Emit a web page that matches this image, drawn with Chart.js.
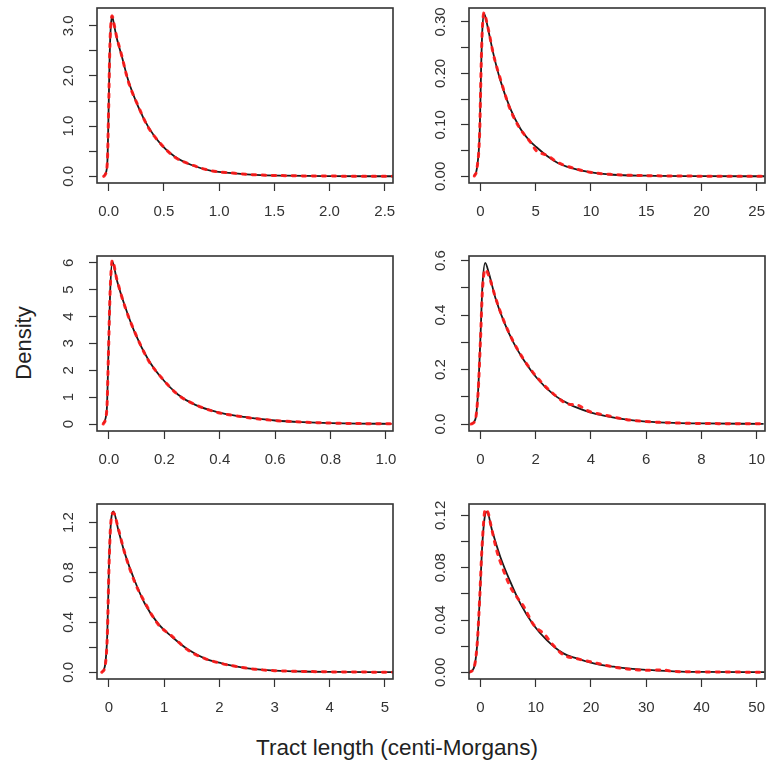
<!DOCTYPE html>
<html lang="en">
<head>
  <meta charset="UTF-8" />
  <title>Tract length densities</title>
  <script src="https://cdn.jsdelivr.net/npm/chart.js"></script>
  <style>
    html, body { margin: 0; padding: 0; background: #fff; overflow: hidden; }
    body { width: 766px; height: 764px; position: relative; font-family: "Liberation Sans", Arial, sans-serif; color: #222; }
    .panel { position: absolute; }
    .ylab { position: absolute; left: 24px; top: 343px; font-size: 22px; transform: translate(-50%, -50%) rotate(-90deg); white-space: nowrap; }
    .xlab { position: absolute; left: 397px; top: 748px; font-size: 22.5px; transform: translate(-50%, -50%); white-space: nowrap; }
  </style>
</head>
<body>
  <canvas id="p1" class="panel"></canvas>
  <canvas id="p2" class="panel"></canvas>
  <canvas id="p3" class="panel"></canvas>
  <canvas id="p4" class="panel"></canvas>
  <canvas id="p5" class="panel"></canvas>
  <canvas id="p6" class="panel"></canvas>
  <div class="ylab">Density</div>
  <div class="xlab">Tract length (centi-Morgans)</div>

  <script>
    // panel 1
    const p1X    = [-0.045, -0.03, -0.012, 0, 0.009, 0.018, 0.03, 0.05, 0.07, 0.115, 0.176, 0.267, 0.357, 0.479, 0.6, 0.75, 0.93, 1.145, 1.33, 1.6, 2.0, 2.57];
    const p1Fit  = [0.0, 0.05, 0.29, 1.42, 2.42, 2.95, 3.19, 3.0, 2.78, 2.42, 1.92, 1.39, 0.99, 0.62, 0.39, 0.225, 0.11, 0.06, 0.03, 0.014, 0.005, 0.001];
    const p1Obs  = [0.0, 0.04, 0.3, 1.4, 2.45, 2.98, 3.2, 3.02, 2.8, 2.43, 1.9, 1.4, 0.98, 0.63, 0.38, 0.23, 0.11, 0.06, 0.03, 0.013, 0.005, 0.001];
    const p1XTicks = [0, 0.5, 1, 1.5, 2, 2.5];
    const p1XLabels = ["0.0", "0.5", "1.0", "1.5", "2.0", "2.5"];
    const p1YTicks = [0, 0.5, 1, 1.5, 2, 2.5, 3];
    const p1YLabels = ["0.0", "", "1.0", "", "2.0", "", "3.0"];

    // panel 2
    const p2X    = [-0.56, -0.32, -0.07, 0.05, 0.16, 0.32, 0.5, 0.74, 1.19, 1.79, 2.69, 3.6, 4.5, 5.05, 6.0, 7.0, 7.8, 9.9, 12.0, 15, 20, 25.7];
    const p2Fit  = [0.0006, 0.016, 0.087, 0.204, 0.281, 0.316, 0.305, 0.281, 0.236, 0.187, 0.132, 0.093, 0.068, 0.057, 0.040, 0.026, 0.019, 0.008, 0.003, 0.0012, 0.0003, 0.0001];
    const p2Obs  = [0.0005, 0.015, 0.088, 0.205, 0.283, 0.318, 0.306, 0.283, 0.235, 0.19, 0.13, 0.092, 0.067, 0.05, 0.041, 0.027, 0.02, 0.008, 0.0035, 0.0013, 0.0003, 0.0001];
    const p2XTicks = [0, 5, 10, 15, 20, 25];
    const p2XLabels = ["0", "5", "10", "15", "20", "25"];
    const p2YTicks = [0, 0.05, 0.1, 0.15, 0.2, 0.25, 0.3];
    const p2YLabels = ["0.00", "", "0.10", "", "0.20", "", "0.30"];

    // panel 3
    const p3X    = [-0.021, -0.008, -0.002, 0.004, 0.012, 0.028, 0.058, 0.094, 0.142, 0.19, 0.25, 0.31, 0.395, 0.467, 0.52, 0.6, 0.7, 0.8, 0.9, 1.02];
    const p3Fit  = [0.01, 0.53, 2.64, 4.87, 6.05, 5.37, 4.37, 3.38, 2.39, 1.71, 1.09, 0.72, 0.43, 0.29, 0.22, 0.13, 0.07, 0.035, 0.017, 0.007];
    const p3Obs  = [0.0, 0.5, 2.6, 4.9, 6.08, 5.4, 4.35, 3.4, 2.37, 1.72, 1.08, 0.73, 0.42, 0.29, 0.21, 0.13, 0.07, 0.036, 0.016, 0.007];
    const p3XTicks = [0, 0.2, 0.4, 0.6, 0.8, 1.0];
    const p3XLabels = ["0.0", "0.2", "0.4", "0.6", "0.8", "1.0"];
    const p3YTicks = [0, 1, 2, 3, 4, 5, 6];
    const p3YLabels = ["0", "1", "2", "3", "4", "5", "6"];

    // panel 4
    const p4X    = [-0.34, -0.19, -0.09, 0.0, 0.07, 0.17, 0.3, 0.54, 0.84, 1.2, 1.56, 2.04, 2.65, 3.25, 3.4, 3.97, 4.5, 5.3, 6, 7, 8, 10.25];
    const p4Fit  = [0.0, 0.016, 0.114, 0.322, 0.506, 0.592, 0.555, 0.463, 0.378, 0.298, 0.236, 0.169, 0.108, 0.071, 0.064, 0.043, 0.03, 0.016, 0.009, 0.004, 0.002, 0.0005];
    const p4Obs  = [0.0, 0.014, 0.11, 0.31, 0.49, 0.567, 0.545, 0.465, 0.38, 0.3, 0.238, 0.172, 0.11, 0.072, 0.072, 0.045, 0.033, 0.016, 0.009, 0.004, 0.002, 0.0005];
    const p4XTicks = [0, 2, 4, 6, 8, 10];
    const p4XLabels = ["0", "2", "4", "6", "8", "10"];
    const p4YTicks = [0, 0.1, 0.2, 0.3, 0.4, 0.5, 0.6];
    const p4YLabels = ["0.0", "", "0.2", "", "0.4", "", "0.6"];

    // panel 5
    const p5X    = [-0.13, -0.07, -0.03, 0.0, 0.03, 0.08, 0.17, 0.29, 0.47, 0.65, 0.89, 1.14, 1.44, 1.74, 2.04, 2.4, 2.64, 3.0, 3.5, 4.0, 5.14];
    const p5Fit  = [0.0, 0.06, 0.31, 0.85, 1.17, 1.29, 1.14, 0.95, 0.73, 0.55, 0.39, 0.285, 0.18, 0.11, 0.072, 0.04, 0.026, 0.014, 0.006, 0.003, 0.0005];
    const p5Obs  = [0.0, 0.05, 0.3, 0.84, 1.18, 1.28, 1.15, 0.95, 0.72, 0.56, 0.385, 0.29, 0.175, 0.11, 0.07, 0.04, 0.025, 0.013, 0.007, 0.003, 0.0005];
    const p5XTicks = [0, 1, 2, 3, 4, 5];
    const p5XLabels = ["0", "1", "2", "3", "4", "5"];
    const p5YTicks = [0, 0.2, 0.4, 0.6, 0.8, 1.0, 1.2];
    const p5YLabels = ["0.0", "", "0.4", "", "0.8", "", "1.2"];

    // panel 6
    const p6X    = [-2.1, -1.23, -0.63, -0.15, 0.27, 0.69, 1.17, 2.08, 3.58, 5.39, 7.2, 9.6, 12.0, 15.0, 17.4, 20.5, 24.1, 26.5, 30, 35, 40, 51.4];
    const p6Fit  = [0, 0.003, 0.0196, 0.055, 0.0935, 0.1164, 0.1228, 0.1088, 0.0884, 0.0693, 0.0527, 0.0362, 0.0247, 0.0145, 0.0107, 0.0069, 0.0043, 0.003, 0.0018, 0.0008, 0.0003, 0.0001];
    const p6ObsX = [-2.1, -1.23, -0.63, -0.15, 0.27, 0.87, 1.42, 1.78, 2.98, 3.89, 5.39, 6.6, 7.8, 9.6, 11.7, 12.9, 15.0, 17.4, 20.75, 24.1, 26.5, 30, 33, 35, 40, 51.4];
    const p6Obs  = [0, 0.003, 0.02, 0.056, 0.095, 0.1246, 0.1215, 0.1145, 0.0925, 0.081, 0.0655, 0.0575, 0.0505, 0.0365, 0.0285, 0.022, 0.0134, 0.0105, 0.0073, 0.0041, 0.0026, 0.0016, 0.0018, 0.0007, 0.0003, 0.0001];
    const p6XTicks = [0, 10, 20, 30, 40, 50];
    const p6XLabels = ["0", "10", "20", "30", "40", "50"];
    const p6YTicks = [0, 0.02, 0.04, 0.06, 0.08, 0.1, 0.12];
    const p6YLabels = ["0.00", "", "0.04", "", "0.08", "", "0.12"];

    const PAD_L = 60, PAD_T = 10, PAD_R = 20, PAD_B = 45;
    const FONT = '"Liberation Sans", Arial, sans-serif';
    const AXIS_COLOR = "#333";
    const TICK_SIZE = 15;

    // box around the plot + rotated y tick labels (R style)
    const framePlugin = {
      id: "frame",
      afterDraw(chart, args, opts) {
        const { ctx, chartArea: a } = chart;
        const ys = chart.scales.y;
        ctx.save();
        ctx.strokeStyle = AXIS_COLOR;
        ctx.lineWidth = 1.6;
        ctx.strokeRect(a.left, a.top, a.right - a.left, a.bottom - a.top);
        ctx.fillStyle = AXIS_COLOR;
        ctx.font = TICK_SIZE + "px " + FONT;
        ctx.textAlign = "center";
        ctx.textBaseline = "middle";
        opts.ticks.forEach((v, i) => {
          if (!opts.labels[i]) return;
          ctx.save();
          ctx.translate(a.left - 28, ys.getPixelForValue(v));
          ctx.rotate(-Math.PI / 2);
          ctx.fillText(opts.labels[i], 0, 0);
          ctx.restore();
        });
        ctx.restore();
      }
    };

    function pts(xs, ys) {
      return xs.map((x, i) => ({ x: x, y: ys[i] }));
    }

    function makePanel(id, box, xRange, yRange, xTicks, xLabels, yTicks, yLabels, fitX, fit, obsX, obs) {
      const [L, T, R, B] = box;
      const canvas = document.getElementById(id);
      const w = R - L + PAD_L + PAD_R;
      const h = B - T + PAD_T + PAD_B;
      canvas.width = w;
      canvas.height = h;
      canvas.style.width = w + "px";
      canvas.style.height = h + "px";
      canvas.style.left = (L - PAD_L) + "px";
      canvas.style.top = (T - PAD_T) + "px";

      const grid = { display: true, drawOnChartArea: false, drawTicks: true, tickLength: 8, tickColor: AXIS_COLOR, tickWidth: 1.2 };

      return new Chart(canvas.getContext("2d"), {
        type: "line",
        data: {
          datasets: [
            {
              data: pts(obsX, obs),
              borderColor: "rgba(255, 25, 25, 0.92)",
              borderWidth: 3,
              borderDash: [3.5, 6.5],
              borderCapStyle: "round",
              pointRadius: 0,
              cubicInterpolationMode: "monotone",
              order: 0
            },
            {
              data: pts(fitX, fit),
              borderColor: "#1a1a1a",
              borderWidth: 1.8,
              pointRadius: 0,
              cubicInterpolationMode: "monotone",
              order: 1
            }
          ]
        },
        options: {
          responsive: false,
          animation: false,
          devicePixelRatio: 1,
          events: [],
          layout: { padding: { left: 0, top: PAD_T, right: PAD_R, bottom: 0 } },
          plugins: {
            legend: { display: false },
            tooltip: { enabled: false },
            frame: { ticks: yTicks, labels: yLabels }
          },
          scales: {
            x: {
              type: "linear",
              min: xRange[0],
              max: xRange[1],
              afterBuildTicks: s => { s.ticks = xTicks.map(v => ({ value: v })); },
              afterFit: s => { s.height = PAD_B; },
              grid: grid,
              border: { display: false },
              ticks: {
                autoSkip: false,
                maxRotation: 0,
                padding: 12,
                color: AXIS_COLOR,
                font: { family: FONT, size: TICK_SIZE },
                callback: (v, i) => xLabels[i]
              }
            },
            y: {
              type: "linear",
              min: yRange[0],
              max: yRange[1],
              afterBuildTicks: s => { s.ticks = yTicks.map(v => ({ value: v })); },
              afterFit: s => { s.width = PAD_L; },
              grid: grid,
              border: { display: false },
              ticks: { display: false }
            }
          }
        },
        plugins: [framePlugin]
      });
    }

    makePanel("p1", [97, 8, 393, 183], [-0.106, 2.575], [-0.133, 3.353], p1XTicks, p1XLabels, p1YTicks, p1YLabels, p1X, p1Fit, p1X, p1Obs);
    makePanel("p2", [469, 8, 765, 183], [-1.04, 25.75], [-0.013, 0.3272], p2XTicks, p2XLabels, p2YTicks, p2YLabels, p2X, p2Fit, p2X, p2Obs);
    makePanel("p3", [97, 256, 393, 431], [-0.0433, 1.0253], [-0.26, 6.25], p3XTicks, p3XLabels, p3YTicks, p3YLabels, p3X, p3Fit, p3X, p3Obs);
    makePanel("p4", [469, 256, 765, 431], [-0.416, 10.3], [-0.0257, 0.617], p4XTicks, p4XLabels, p4YTicks, p4YLabels, p4X, p4Fit, p4X, p4Obs);
    makePanel("p5", [97, 504, 393, 679], [-0.217, 5.145], [-0.054, 1.35], p5XTicks, p5XLabels, p5YTicks, p5YLabels, p5X, p5Fit, p5X, p5Obs);
    makePanel("p6", [469, 504, 765, 679], [-2.08, 51.5], [-0.0051, 0.1287], p6XTicks, p6XLabels, p6YTicks, p6YLabels, p6X, p6Fit, p6ObsX, p6Obs);
  </script>
</body>
</html>
